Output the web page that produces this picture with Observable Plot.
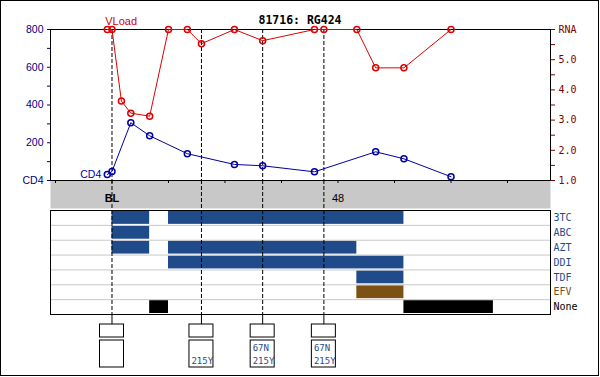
<!DOCTYPE html>
<html><head><meta charset="utf-8">
<script src="https://cdn.jsdelivr.net/npm/d3@7"></script>
<script src="https://cdn.jsdelivr.net/npm/@observablehq/plot@0.6"></script>
<style>
body{margin:0;background:#fff;}
#wrap{position:relative;width:600px;height:377px;overflow:hidden;background:#fff;}
#wrap > .layer{position:absolute;left:0;line-height:0;}
#border{position:absolute;left:0;top:0;width:597px;height:374px;border:1px solid #000;}
#title{position:absolute;top:13px;left:0;width:600px;text-align:center;font:bold 11.5px "DejaVu Sans Mono", monospace;line-height:14px;color:#000;}
</style></head><body>
<div id="wrap"><div id="border"></div><div id="title"></div></div>
<script>
// ---- data ----
const title = "81716: RG424";
const seriesNames = ["CD4", "VLoad"];

const vlWeeks = [-1, 0, 2, 4, 8, 12, 16, 19, 26, 32, 43, 45, 52, 56, 62, 72];
const vlLog   = [6.0, 6.0, 3.63, 3.23, 3.13, 6.0, 6.0, 5.53, 6.0, 5.63, 6.0, 6.0, 6.0, 4.73, 4.73, 6.0];

const cd4Weeks  = [-1, 0, 4, 8, 16, 26, 32, 43, 56, 62, 72];
const cd4Values = [32, 48, 306, 237, 142, 85, 78, 46, 152, 115, 20];

const cd4Ticks = [0, 100, 200, 300, 400, 500, 600, 700, 800];
const cd4TickLabels = ["CD4", "", "200", "", "400", "", "600", "", "800"];
const rnaTicks = [1, 1.5, 2, 2.5, 3, 3.5, 4, 4.5, 5, 5.5, 6];
const rnaTickLabels = ["1.0", "", "2.0", "", "3.0", "", "4.0", "", "5.0", "", "RNA"];

const weekTicks = [-12, 0, 12, 24, 36, 48, 60, 72, 84];
const weekTickLabels = ["", "BL", "", "", "", "48", "", "", ""];

const drugs = ["3TC", "ABC", "AZT", "DDI", "TDF", "EFV", "None"];
const drugColors = ["#1f4b8a", "#1f4b8a", "#1f4b8a", "#1f4b8a", "#1f4b8a", "#7b5214", "#000000"];
const barDrug  = ["3TC", "3TC", "ABC", "AZT", "AZT", "DDI", "TDF", "EFV", "None", "None"];
const barStart = [0, 12, 0, 0, 12, 12, 52, 52, 8, 62];
const barEnd   = [8, 62, 8, 8, 52, 62, 62, 62, 12, 81];

const genoWeeks = [0, 19, 32, 45];
const genoRow1 = ["", "", "67N", "67N"];
const genoRow2 = ["", "215Y", "215Y", "215Y"];

// ---- layout ----
const xDomain = [-13.06, 93.13];
const W = 600, ML = 50, MR = 50;
const wrap = document.getElementById("wrap");
document.getElementById("title").textContent = title;
function layer(top, svg) {
  const d = document.createElement("div");
  d.className = "layer";
  d.style.top = top + "px";
  d.appendChild(svg);
  wrap.appendChild(d);
}
const dash = {stroke: "black", strokeDasharray: "4,2"};

// gray band with week ticks
layer(180, Plot.plot({
  width: W, height: 28, marginLeft: ML, marginRight: MR, marginTop: 0, marginBottom: 0,
  x: {domain: xDomain, axis: null},
  style: {background: "transparent", color: "black", fontFamily: "Liberation Sans, Arial, sans-serif", fontSize: "11px", overflow: "visible"},
  marks: [
    Plot.frame({fill: "#c8c8c8"}),
    Plot.tickX(weekTicks, {x: d => d, insetBottom: 25, stroke: "black"}),
    Plot.ruleX(genoWeeks, {x: d => d, ...dash}),
    Plot.text(weekTicks, {filter: (d, i) => weekTickLabels[i] === "BL", x: d => d, text: (d, i) => weekTickLabels[weekTicks.indexOf(d)], frameAnchor: "top", dy: 14, fontWeight: "bold", fill: "black"}),
    Plot.text(weekTicks, {filter: (d, i) => weekTickLabels[i] !== "BL" && weekTickLabels[i] !== "", x: d => d, text: d => weekTickLabels[weekTicks.indexOf(d)], frameAnchor: "top", dy: 14, fill: "black"})
  ]
}));

// drug panel
const barIdx = d3.range(barDrug.length);
layer(210, Plot.plot({
  width: W, height: 104, marginLeft: ML, marginRight: MR, marginTop: 0, marginBottom: 0,
  x: {domain: xDomain, axis: null},
  y: {domain: [drugs.length, 0], axis: null},
  color: {type: "identity"},
  style: {background: "transparent", color: "black", fontFamily: "DejaVu Sans Mono, monospace", fontSize: "10px", overflow: "visible"},
  marks: [
    Plot.rect(barIdx, {
      x1: i => barStart[i], x2: i => barEnd[i],
      y1: i => drugs.indexOf(barDrug[i]), y2: i => drugs.indexOf(barDrug[i]) + 1,
      fill: i => drugColors[drugs.indexOf(barDrug[i])], insetTop: 1, insetBottom: 1
    }),
    Plot.ruleY(d3.range(1, drugs.length), {y: d => d, stroke: "#c8c8c8"}),
    Plot.ruleX(genoWeeks, {x: d => d, ...dash}),
    Plot.frame({stroke: "black"}),
    Plot.text(drugs, {y: (d, i) => i + 0.5, text: d => d, frameAnchor: "right", textAnchor: "start", dx: 3, fill: (d, i) => drugColors[i]})
  ]
}));

// genotype boxes
layer(314, Plot.plot({
  width: W, height: 54, marginLeft: ML, marginRight: MR, marginTop: 0, marginBottom: 0,
  x: {domain: xDomain, axis: null},
  y: {domain: [0, 54], range: [0, 54], axis: null},
  style: {background: "transparent", color: "black", fontFamily: "DejaVu Sans Mono, monospace", fontSize: "9px", overflow: "visible"},
  marks: [
    Plot.ruleX(genoWeeks, {x: d => d, y1: 0, y2: 10, stroke: "black"}),
    Plot.rect(genoWeeks, {x1: d => d, x2: d => d, y1: 10, y2: 23, insetLeft: -12, insetRight: -12, stroke: "black", fill: "white"}),
    Plot.rect(genoWeeks, {x1: d => d, x2: d => d, y1: 26, y2: 53, insetLeft: -12, insetRight: -12, stroke: "black", fill: "white"}),
    Plot.text(genoWeeks, {x: d => d, y: 34, text: (d, i) => genoRow1[i], textAnchor: "start", dx: -10, fill: "#1f4b8a"}),
    Plot.text(genoWeeks, {x: d => d, y: 46.5, text: (d, i) => genoRow2[i], textAnchor: "start", dx: -10, fill: "#1f4b8a"})
  ]
}));

// CD4 chart (left axis)
const cd4Idx = d3.range(cd4Weeks.length);
layer(0, Plot.plot({
  width: W, height: 190, marginLeft: ML, marginRight: MR, marginTop: 29, marginBottom: 10,
  x: {domain: xDomain, axis: null},
  y: {domain: [0, 800], ticks: cd4Ticks, tickFormat: d => cd4TickLabels[cd4Ticks.indexOf(d)], tickSize: 3, tickPadding: 4, label: null},
  style: {background: "transparent", color: "#000080", fontFamily: "Liberation Sans, Arial, sans-serif", fontSize: "10.5px", overflow: "visible"},
  marks: [
    Plot.frame({stroke: "black"}),
    Plot.ruleX(genoWeeks, {x: d => d, ...dash}),
    Plot.line(cd4Idx, {x: i => cd4Weeks[i], y: i => cd4Values[i], stroke: "#0000a0", strokeWidth: 1}),
    Plot.dot(cd4Idx, {x: i => cd4Weeks[i], y: i => cd4Values[i], r: 3, stroke: "#0000a0", fill: "none"}),
    Plot.text([0], {x: i => cd4Weeks[i], y: i => cd4Values[i], text: () => seriesNames[0], textAnchor: "end", dx: -6, fill: "#0000a0"})
  ]
}));

// Viral load chart (right axis)
const vlIdx = d3.range(vlWeeks.length);
layer(0, Plot.plot({
  width: W, height: 190, marginLeft: ML, marginRight: MR, marginTop: 29, marginBottom: 10,
  x: {domain: xDomain, axis: null},
  y: {domain: [1, 6], axis: "right", ticks: rnaTicks, tickFormat: d => rnaTickLabels[rnaTicks.indexOf(d)], tickSize: 4, tickPadding: 4, label: null},
  style: {background: "transparent", color: "#800000", fontFamily: "DejaVu Sans Mono, monospace", fontSize: "10px", overflow: "visible"},
  marks: [
    Plot.line(vlIdx, {x: i => vlWeeks[i], y: i => vlLog[i], stroke: "#dd0000", strokeWidth: 1}),
    Plot.dot(vlIdx, {x: i => vlWeeks[i], y: i => vlLog[i], r: 3, stroke: "#dd0000", fill: "none"}),
    Plot.text([0], {x: i => vlWeeks[i], y: i => vlLog[i], text: () => seriesNames[1], textAnchor: "start", dx: -2, dy: -8, fill: "#cc0000", fontFamily: "Liberation Sans, Arial, sans-serif", fontSize: 11})
  ]
}));
</script>
</body></html>
